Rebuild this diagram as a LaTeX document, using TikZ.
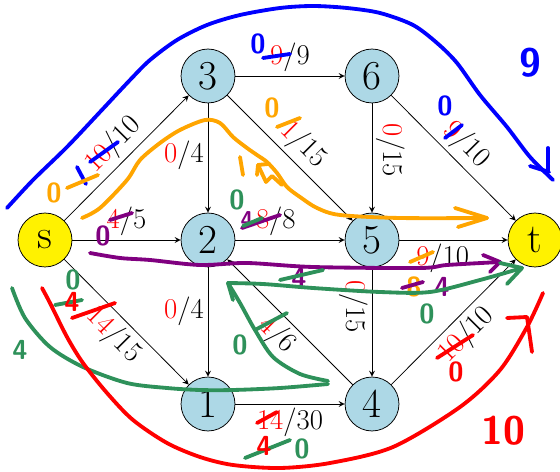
\documentclass[tikz,border=0pt]{standalone}
\usetikzlibrary{arrows}

\definecolor{knoop}{RGB}{173,216,230}
\definecolor{horanje}{RGB}{255,165,0}
\definecolor{hpaars}{RGB}{128,0,128}
\definecolor{hgroen}{RGB}{46,145,90}

\newcommand{\stroom}[2]{\textcolor{red}{#1}/#2}

\tikzset{
  knp/.style={circle, draw, fill=knoop, minimum size=0.99cm, inner sep=0pt,
    font=\fontsize{21.5}{24}\selectfont},
  bron/.style={knp, fill=yellow},
  kant/.style={->, >=stealth},
  lbl/.style={font=\fontsize{15}{17}\selectfont, inner sep=2pt},
  hand/.style={line width=2pt, line cap=round, line join=round},
  hw/.style={font=\sffamily\bfseries\Large, inner sep=0pt}
}

\begin{document}
\begin{tikzpicture}[x=0.01835cm, y=-0.01835cm]

  \useasboundingbox (0,0) rectangle (560,472);

  % Knopen
  \node[bron] (s) at (45,240) {s};
  \node[knp] (n3) at (208,76) {3};
  \node[knp] (n6) at (372,76) {6};
  \node[knp] (n2) at (208,240) {2};
  \node[knp] (n5) at (372,240) {5};
  \node[bron] (t) at (535,240) {t};
  \node[knp] (n1) at (208,404) {1};
  \node[knp] (n4) at (372,404) {4};

  % Kanten: stroom/capaciteit
  \draw[kant] (s) -- (n3) node[lbl, midway, sloped, above] {\stroom{10}{10}};
  \draw[kant] (s) -- (n2) node[lbl, midway, above] {\stroom{4}{5}};
  \draw[kant] (s) -- (n1) node[lbl, midway, sloped, below] {\stroom{14}{15}};
  \draw[kant] (n3) -- (n6) node[lbl, midway, above] {\stroom{9}{9}};
  \draw[kant] (n3) -- (n2) node[lbl, pos=0.48, left] {\stroom{0}{4}};
  \draw[kant] (n3) -- (n5) node[lbl, midway, sloped, above] {\stroom{1}{15}};
  \draw[kant] (n6) -- (n5) node[lbl, pos=0.43, sloped, above] {\stroom{0}{15}};
  \draw[kant] (n6) -- (t) node[lbl, midway, sloped, above] {\stroom{9}{10}};
  \draw[kant] (n2) -- (n5) node[lbl, pos=0.37, above] {\stroom{8}{8}};
  \draw[kant] (n2) -- (n1) node[lbl, pos=0.4, left] {\stroom{0}{4}};
  \draw[kant] (n5) -- (t) node[lbl, pos=0.4, below] {\stroom{9}{10}};
  \draw[kant] (n5) -- (n4) node[lbl, pos=0.36, sloped, below] {\stroom{0}{15}};
  \draw[kant] (n4) -- (n2) node[lbl, midway, sloped, below] {\stroom{4}{6}};
  \draw[kant] (n1) -- (n4) node[lbl, midway, below] {\stroom{14}{30}};
  \draw[kant] (n4) -- (t) node[lbl, midway, sloped, below] {\stroom{10}{10}};

  % Blauw pad s-3-6-t
  \draw[hand, blue] plot[smooth] coordinates {(7,208) (33,180) (67,147) (100,112)
    (130,80) (150,60) (177,40) (207,25) (240,15) (280,8) (313,6) (347,8) (380,13)
    (413,25) (437,43) (457,63) (480,95) (507,127) (530,157) (553,180)};
  \draw[hand, blue] (530,166) -- (549,172);
  \draw[hand, blue] (548,148) -- (548,172);
  \node[hw, blue, font=\sffamily\bfseries\huge] (b9) at (530,63) {9};
  \node[hw, blue] (b0a) at (258,44) {0};
  \node[hw, blue] (b0b) at (445,106) {0};
  \draw[hand, blue] (263,58) -- (290,54);
  \draw[hand, blue] (445,138) -- (462,125);
  \draw[hand, blue] (90,162) -- (118,142);
  \draw[hand, blue] (77,167) -- (86,184);

  % Oranje pad s-3-5-t
  \draw[hand, horanje] plot[smooth] coordinates {(82,218) (100,208) (127,180)
    (140,160) (160,143) (180,130) (205,120) (220,123) (233,137) (247,148)
    (257,155) (267,162) (277,173) (287,187) (300,197) (317,208) (340,215)
    (400,218) (487,218)};
  \draw[hand, horanje] (455,208) -- (487,218) -- (458,227);
  \draw[hand, horanje] (282,185) -- (272,176) -- (266,182) -- (258,165);
  \draw[hand, horanje] (258,165) -- (268,164);
  \draw[hand, horanje] (258,165) -- (257,175);
  \draw[hand, horanje] (240,157) -- (243,175);
  \node[hw, horanje] (o0a) at (54,193) {0};
  \draw[hand, horanje] (67,188) -- (98,175);
  \node[hw, horanje] (o0b) at (272,108) {0};
  \draw[hand, horanje] (277,127) -- (300,118);
  \draw[hand, horanje] (410,262) -- (433,252);
  \node[hw, horanje] (o8) at (414,287) {8};

  % Paars pad s-2-5-t
  \draw[hand, hpaars] plot[smooth] coordinates {(90,253) (120,258) (150,260)
    (200,265) (247,263) (313,267) (420,268) (447,265) (500,262)};
  \draw[hand, hpaars] (483,255) -- (500,262) -- (490,272);
  \node[hw, hpaars] (p0) at (103,236) {0};
  \draw[hand, hpaars] (110,220) -- (132,213);
  \node[hw, hpaars, font=\sffamily\bfseries\large] (p4a) at (247,220) {4};
  \draw[hand, hpaars] (242,228) -- (280,215);
  \node[hw, hpaars] (p4b) at (299,278) {4};
  \node[hw, hpaars] (p4c) at (442,287) {4};
  \draw[hand, hpaars] (402,288) -- (423,282);

  % Groen pad s-1-4-2-t
  \draw[hand, hgroen] plot[smooth] coordinates {(12,288) (25,318) (50,347)
    (83,367) (127,383) (167,388) (200,390) (233,390) (280,388) (328,384)};
  \draw[hand, hgroen] plot[smooth] coordinates {(328,381) (300,374) (273,357)
    (255,330) (240,303) (228,283)};
  \draw[hand, hgroen] (228,283) -- (233,300);
  \draw[hand, hgroen] plot[smooth] coordinates {(228,283) (263,284) (313,288)
    (380,292) (430,292) (480,280) (522,268)};
  \draw[hand, hgroen] (500,263) -- (522,268) -- (507,284);
  \node[hw, hgroen] (g4) at (20,350) {4};
  \node[hw, hgroen] (g0a) at (73,280) {0};
  \draw[hand, hgroen] (55,305) -- (82,300);
  \node[hw, hgroen] (g0b) at (237,200) {0};
  \draw[hand, hgroen] (243,226) -- (262,218);
  \node[hw, hgroen] (g0c) at (240,345) {0};
  \draw[hand, hgroen] (255,330) -- (287,313);
  \draw[hand, hgroen] (280,280) -- (323,270);
  \node[hw, hgroen] (g0d) at (427,314) {0};
  \node[hw, hgroen] (g0e) at (302,449) {0};
  \draw[hand, hgroen] (245,458) -- (290,440);

  % Rood pad s-1-4-t
  \draw[hand, red] plot[smooth] coordinates {(42,288) (50,303) (67,337) (83,363)
    (107,393) (133,420) (167,443) (200,457) (233,465) (280,468) (330,463)
    (393,447) (460,407) (500,370) (527,327) (543,293)};
  \draw[hand, red] (507,318) -- (527,317) -- (532,352);
  \node[hw, red, font=\sffamily\bfseries\huge] (r10) at (503,431) {10};
  \node[hw, red] (r0) at (456,372) {0};
  \draw[hand, red] (437,358) -- (473,335);
  \node[hw, red] (r4a) at (72,302) {4};
  \draw[hand, red] (72,318) -- (115,303);
  \node[hw, red] (r4b) at (264,446) {4};
  \draw[hand, red] (257,423) -- (277,412);

\end{tikzpicture}
\end{document}
